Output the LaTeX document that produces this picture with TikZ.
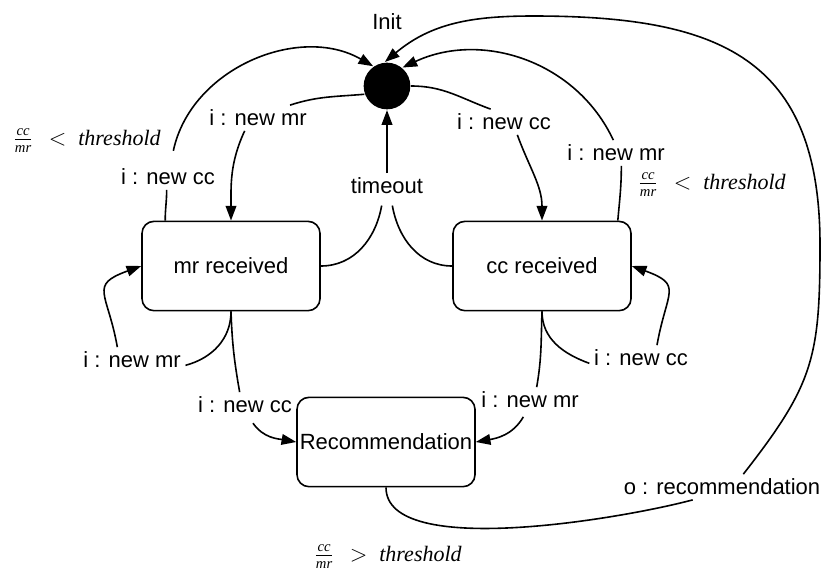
\documentclass[tikz,border=0pt]{standalone}
\usepackage{fontspec}
\setmainfont{Liberation Sans}
\newfontfamily\guardfont{Liberation Serif}
\usetikzlibrary{arrows.meta}
\newcommand{\guardsmall}{\guardfont\itshape\fontsize{11}{11}\selectfont}
\newcommand{\ccovermr}{$\frac{\hbox{\guardsmall cc}}{\hbox{\guardsmall mr}}$}

\begin{document}
\begin{tikzpicture}[x=0.75pt, y=-0.75pt, line width=1.2pt,
    >={Triangle[length=11pt,width=8pt]},
    every node/.style={font=\fontsize{16.5}{19.8}\selectfont},
    state/.style={draw, rounded corners=9pt, minimum width=133.5pt, minimum height=67pt, inner sep=0pt},
    lbl/.style={inner sep=3pt},
    guard/.style={inner sep=0pt, font=\guardfont\itshape\fontsize{16.5}{19.8}\selectfont}]
  \useasboundingbox (0,0) rectangle (821,572);
  % states
  \node[circle, fill=black, minimum size=35pt, inner sep=0pt] (init) at (387,86) {};
  \node (initname) at (387,22) {Init};
  \node[state] (mr) at (231,266) {mr received};
  \node[state] (cc) at (542,266) {cc received};
  \node[state] (rec) at (386,442) {Recommendation};
  % transition labels
  \node[lbl] (newmrA) at (258,118) {i : new mr};
  \node[lbl] (newccA) at (168,177) {i : new cc};
  \node[lbl] (timeout) at (387,186) {timeout};
  \node[lbl] (newccB) at (504,122) {i : new cc};
  \node[lbl] (newmrB) at (616,153) {i : new mr};
  \node[lbl] (loopmr) at (132,360) {i : new mr};
  \node[lbl] (loopcc) at (641,358) {i : new cc};
  \node[lbl] (mr2rec) at (245,405) {i : new cc};
  \node[lbl] (cc2rec) at (530,400) {i : new mr};
  \node[lbl] (lout) at (722,487) {o : recommendation};
  \node[guard] (guardA) at (87,141) {\ccovermr\hspace{12pt}$<$\hspace{9pt}threshold};
  \node[guard] (guardB) at (712,185) {\ccovermr\hspace{12pt}$<$\hspace{9pt}threshold};
  \node[guard] (guardC) at (388,557) {\ccovermr\hspace{12pt}$>$\hspace{9pt}threshold};
  \coordinate (bendR) at (820,245);
  \coordinate (bendT) at (533,16);
  % from init
  \draw[->] (init.200) to[out=185,in=18] ([xshift=24pt]newmrA.north)
            ([xshift=-10pt]newmrA.south) to[out=-115,in=90] (mr.north);
  \draw[->] (init.east) to[out=0,in=160] ([xshift=-10pt]newccB.north)
            ([xshift=10pt]newccB.south) to[out=-70,in=90] (cc.north);
  % back to init
  \draw[->] ([xshift=18pt]mr.north west) to[out=90,in=-90] ([xshift=-1pt]newccA.south)
            ([xshift=4pt,yshift=10pt]newccA.north) to[out=78,in=150] (init.125);
  \draw[->] ([xshift=-10.5pt]cc.north east) to[out=85,in=-90] ([xshift=4pt]newmrB.south)
            ([xshift=-2pt]newmrB.north) to[out=115,in=25] (init.50);
  \draw (mr.east) to[out=0,in=-100] ([xshift=-4pt,yshift=-5pt]timeout.south);
  \draw (cc.west) to[out=180,in=-80] ([xshift=4pt,yshift=-5pt]timeout.south);
  \draw[->] (timeout.north) -- (init.south);
  % self loops
  \draw[->] (mr.south) to[out=-90,in=15] ([yshift=-4pt]loopmr.east)
            ([xshift=-11pt]loopmr.north) to[out=100,in=200,looseness=1.7] (mr.west);
  \draw[->] (cc.south) to[out=-90,in=160] ([yshift=-4pt]loopcc.west)
            ([xshift=12pt]loopcc.north) to[out=80,in=-20,looseness=1.7] (cc.east);
  % to recommendation
  \draw[->] (mr.south) to[out=-88,in=100] ([xshift=-4pt]mr2rec.north)
            ([xshift=6pt,yshift=-4pt]mr2rec.south) to[out=-55,in=170] (rec.west);
  \draw[->] (cc.south) to[out=-92,in=80] ([xshift=5pt]cc2rec.north)
            ([xshift=-5pt,yshift=-3pt]cc2rec.south) to[out=-120,in=10] (rec.east);
  % output, back to init
  \draw[->] (rec.south) to[out=-90,in=195,looseness=0.6] ([xshift=-22pt]lout.south)
            ([xshift=16pt]lout.north) to[out=52,in=-90,looseness=1.2] (bendR)
            to[out=90,in=0,looseness=1.3] (bendT) to[out=180,in=40] (init.95);
\end{tikzpicture}
\end{document}
